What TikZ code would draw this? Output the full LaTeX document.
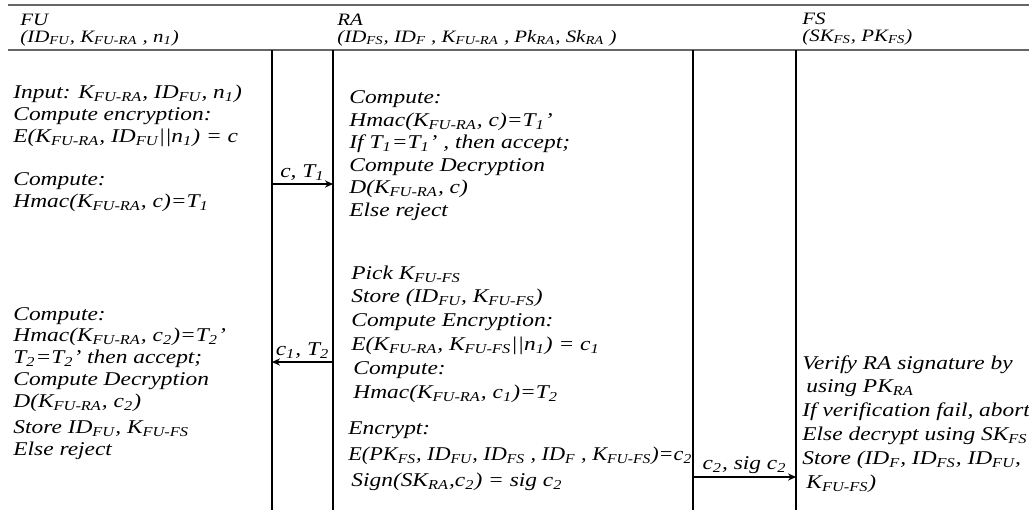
\documentclass[tikz,border=0pt]{standalone}
\usepackage{fontspec}
\setmainfont{Liberation Serif}[FakeStretch=1.2]
\usetikzlibrary{arrows.meta}
\newcommand{\low}[1]{\textsubscript{#1}}

\begin{document}
\begin{tikzpicture}
[x=0.5pt, y=-0.5pt,
rule/.style={black!60, line width = 1.1pt},
lane/.style={black, line width = 0.6pt},
msg/.style={black, line width = 0.6pt, -{Stealth[length=4pt, width=3.6pt]}},
head/.style={anchor=base west, inner sep=0pt, font=\fontsize{8.7}{9}\selectfont\itshape},
blk/.style={anchor=base west, align=left, inner sep=0pt, font=\fontsize{9.75}{#1}\selectfont\itshape},
blk/.default=11.3,
lbl/.style={above, inner sep=1.5pt, font=\fontsize{9.75}{11}\selectfont\itshape}]
\useasboundingbox (0,0) rectangle (1029,510);
\draw[rule] (8,5) -- (1029,5);
\draw[rule] (8,50) -- (1029,50);
\draw[lane] (272,50) -- (272,510);
\draw[lane] (333,50) -- (333,510);
\draw[lane] (693,50) -- (693,510);
\draw[lane] (796,50) -- (796,510);
% parties
\node[head] (fu) at (20,25) {FU};
\node[head] (fukeys) at (20,42) {(ID\low{FU}, K\low{FU-RA} , n\low{1})};
\node[head] (ra) at (337,25) {RA};
\node[head] (rakeys) at (337,42) {(ID\low{FS}, ID\low{F} , K\low{FU-RA} , Pk\low{RA}, Sk\low{RA} )};
\node[head] (fs) at (802,24) {FS};
\node[head] (fskeys) at (802,41) {(SK\low{FS}, PK\low{FS})};
% FU side (blocks sit on their last line)
\node[blk=11] (fuenc) at (13,142) {Input: K\low{FU-RA}, ID\low{FU}, n\low{1})\\
Compute encryption:\\
E(K\low{FU-RA}, ID\low{FU}||n\low{1}) = c};
\node[blk=11] (fumac) at (13,207) {Compute:\\
Hmac(K\low{FU-RA}, c)=T\low{1}};
\node[blk=10.85] (fuver) at (13,407) {Compute:\\
Hmac(K\low{FU-RA}, c\low{2})=T\low{2}'\\
T\low{2}=T\low{2}' then accept;\\
Compute Decryption\\
D(K\low{FU-RA}, c\low{2})};
\node[blk=11] (fustore) at (13,455) {Store ID\low{FU}, K\low{FU-FS}\\
Else reject};
% RA side
\node[blk=11.25] (raver) at (349,216) {Compute:\\
Hmac(K\low{FU-RA}, c)=T\low{1}'\\
If T\low{1}=T\low{1}' , then accept;\\
Compute Decryption\\
D(K\low{FU-RA}, c)\\
Else reject};
\node[blk=11.9] (rapick) at (351,398) {Pick K\low{FU-FS}\\
Store (ID\low{FU}, K\low{FU-FS})\\
Compute Encryption:\\
E(K\low{FU-RA}, K\low{FU-FS}||n\low{1}) = c\low{1}\\
\hspace*{1pt}Compute:\\
\hspace*{1pt}Hmac(K\low{FU-RA}, c\low{1})=T\low{2}};
\node[blk=13] (rasig) at (348,486) {Encrypt:\\
\scalebox{0.95}[1]{E(PK\low{FS}, ID\low{FU}, ID\low{FS} , ID\low{F} , K\low{FU-FS})=c\low{2}}\\
\hspace*{1.5pt}Sign(SK\low{RA},c\low{2}) = sig c\low{2}};
% FS side
\node[blk=11.9] (fsver) at (802,488) {Verify RA signature by\\
\hspace*{2pt}using PK\low{RA}\\
If verification fail, abort\\
Else decrypt using SK\low{FS}\\
Store (ID\low{F}, ID\low{FS}, ID\low{FU},\\
\hspace*{2pt}K\low{FU-FS})};
% messages
\coordinate (fu1) at (272,184);
\coordinate (ra1) at (333,184);
\coordinate (fu2) at (272,362);
\coordinate (ra2) at (333,362);
\coordinate (ra3) at (693,477);
\coordinate (fs3) at (796,477);
\draw[msg] (fu1) -- node[lbl] (m1) {c, T\low{1}} (ra1);
\draw[msg] (ra2) -- node[lbl] (m2) {c\low{1}, T\low{2}} (fu2);
\draw[msg] (ra3) -- node[lbl] (m3) {c\low{2}, sig c\low{2}} (fs3);
\end{tikzpicture}
\end{document}
